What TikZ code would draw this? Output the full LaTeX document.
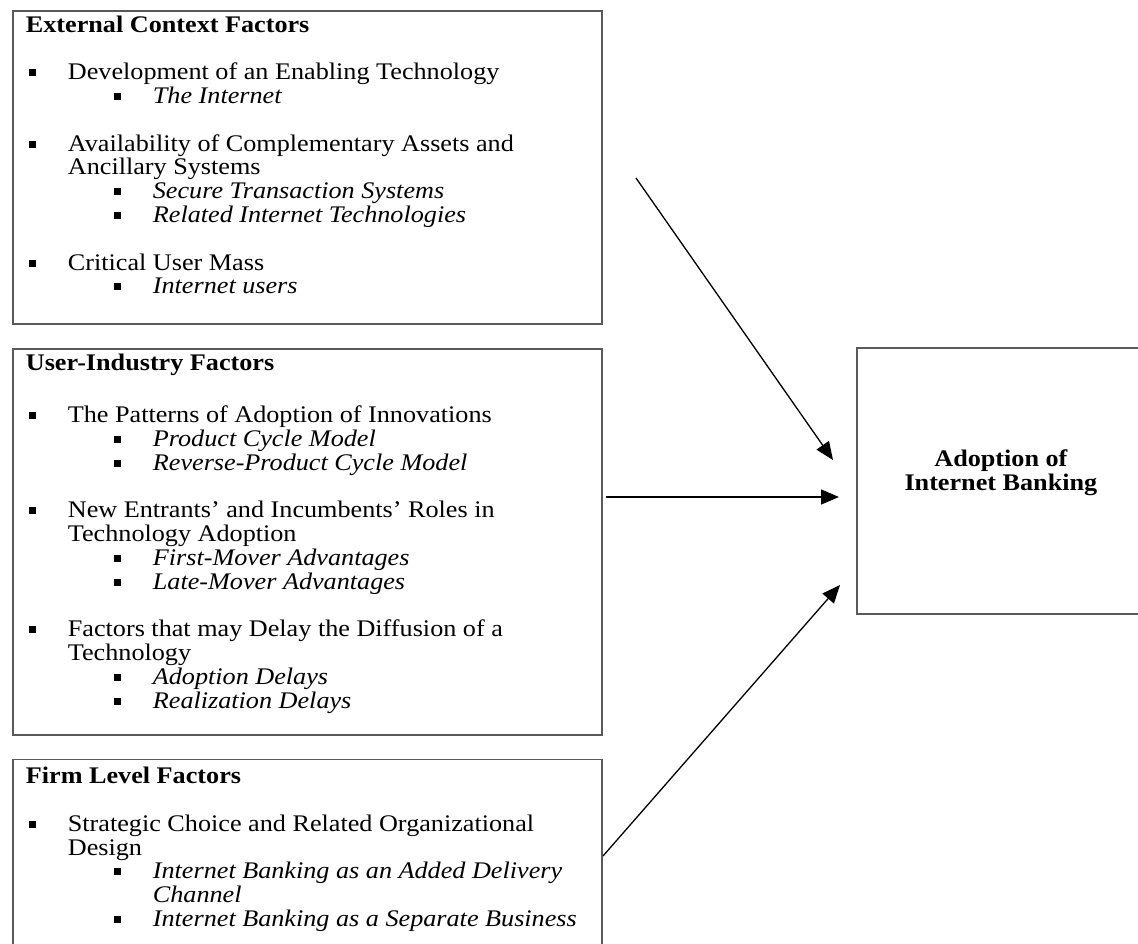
\documentclass[tikz,border=0pt]{standalone}
\usepackage{fontspec}
\setmainfont{Liberation Serif}[FakeStretch=1.1]
\usetikzlibrary{arrows.meta, positioning}

\definecolor{boxgray}{HTML}{5A5A5A}
\setlength{\parindent}{0pt}

% bullets: square, item text at 42pt, sub-item text at 127pt
\newcommand{\bsq}{\rule[3.5pt]{7pt}{7pt}}
\newcommand{\bitem}[1]{\par\leftskip=42pt\noindent\llap{\makebox[39pt][l]{\bsq}}#1}
\newcommand{\sitem}[1]{\par\leftskip=127pt\noindent\llap{\makebox[39pt][l]{\bsq}}\textit{#1}}
\newcommand{\gap}{\par\vskip23.8pt}

\begin{document}
\begin{tikzpicture}[
    x=1pt, y=-1pt,
    factor/.style={draw=boxgray, line width=1.8pt, inner xsep=13pt, inner ysep=0pt,
        font=\fontsize{23.8pt}{23.8pt}\selectfont},
    outcome/.style={draw=boxgray, line width=1.8pt, inner sep=0pt,
        font=\fontsize{23.8pt}{23.8pt}\selectfont},
    arrow/.style={-{Triangle[length=18pt, width=15pt]}, line width=1.3pt}
]
\useasboundingbox (0,0) rectangle (1138,944);

% Factor boxes
\node[factor, anchor=north west] (ext) at (12,10) {\parbox[t][313pt][t]{563pt}{\raggedright
    \vspace*{4.7pt}\textbf{External Context Factors}\gap
    \bitem{Development of an Enabling Technology}
    \sitem{The Internet}\gap
    \bitem{Availability of Complementary Assets and\newline Ancillary Systems}
    \sitem{Secure Transaction Systems}
    \sitem{Related Internet Technologies}\gap
    \bitem{Critical User Mass}
    \sitem{Internet users}}};

\node[factor, below=23pt of ext] (user) {\parbox[t][386pt][t]{563pt}{\raggedright
    \vspace*{5.7pt}\textbf{User-Industry Factors}\gap\vskip4pt
    \bitem{The Patterns of Adoption of Innovations}
    \sitem{Product Cycle Model}
    \sitem{Reverse-Product Cycle Model}\gap
    \bitem{New Entrants' and Incumbents' Roles in\newline Technology Adoption}
    \sitem{First-Mover Advantages}
    \sitem{Late-Mover Advantages}\gap
    \bitem{Factors that may Delay the Diffusion of a\newline Technology}
    \sitem{Adoption Delays}
    \sitem{Realization Delays}}};

\node[factor, below=23pt of user] (firm) {\parbox[t][220pt][t]{563pt}{\raggedright
    \vspace*{7.7pt}\textbf{Firm Level Factors}\gap
    \bitem{Strategic Choice and Related Organizational\newline Design}
    \sitem{Internet Banking as an Added Delivery\newline Channel}
    \sitem{Internet Banking as a Separate Business}}};

% Outcome box
\node[outcome, anchor=north west] (adopt) at (856,347) {\parbox[t][266pt][t]{288pt}{\centering
    \vspace*{102pt}\textbf{Adoption of\\Internet Banking}}};

% Arrow ends
\coordinate (ext out) at (636,178);
\coordinate (user out) at (606,497);
\coordinate (firm out) at (603,856);
\coordinate (adopt in1) at (833,460);
\coordinate (adopt in2) at (839,497);
\coordinate (adopt in3) at (840,585);

\draw[arrow] (ext out) -- (adopt in1);
\draw[arrow] (user out) -- (adopt in2);
\draw[arrow] (firm out) -- (adopt in3);

\end{tikzpicture}
\end{document}
